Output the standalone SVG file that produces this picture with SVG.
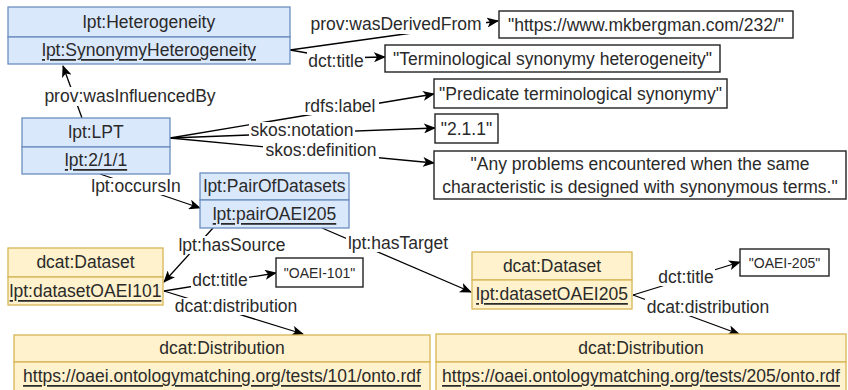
<svg xmlns="http://www.w3.org/2000/svg" width="848" height="390" viewBox="0 0 848 390">
<defs>
<marker id="arr" viewBox="0 0 12 10" refX="11" refY="5" markerWidth="12" markerHeight="10" markerUnits="userSpaceOnUse" orient="auto">
<path d="M0,0 L12,5 L0,10 L3,5 z" fill="#000"/>
</marker>
<style>
text{font-family:"Liberation Sans",Arial,sans-serif;font-size:17.5px;fill:#2a2a2a;text-anchor:middle;dominant-baseline:central}
.u{text-decoration:underline}
.blue{fill:#dae8fc;stroke:#6c8ebf;stroke-width:1.3}
.yel{fill:#fff2cc;stroke:#d6b656;stroke-width:1.3}
.lit{fill:#fff;stroke:#222;stroke-width:1.4}
.sm{font-size:14px}
.e{stroke:#000;stroke-width:1.3;fill:none;marker-end:url(#arr)}
.lb{fill:#fff}
</style>
</defs>
<rect width="848" height="390" fill="#fff"/>
<g id="connectors">
<line class="e" x1="82" y1="118" x2="63" y2="66"/>
<line class="e" x1="290" y1="50" x2="498" y2="21"/>
<polyline class="e" points="290,50 336,58 385,57"/>
<line class="e" x1="170" y1="138" x2="434" y2="94"/>
<line class="e" x1="170" y1="138" x2="435" y2="128"/>
<line class="e" x1="170" y1="138" x2="434" y2="163"/>
<line class="e" x1="100" y1="174" x2="200" y2="208"/>
<line class="e" x1="213" y1="228" x2="164" y2="282"/>
<line class="e" x1="322" y1="228" x2="471" y2="292"/>
<line class="e" x1="164" y1="291" x2="276" y2="273"/>
<line class="e" x1="164" y1="291" x2="303" y2="334"/>
<line class="e" x1="633" y1="295" x2="740" y2="262"/>
<line class="e" x1="633" y1="295" x2="739" y2="334"/>
<g id="edge-labels">
<rect class="lb" x="41" y="87" width="178" height="19"/><text x="130" y="96">prov:wasInfluencedBy</text>
<rect class="lb" x="306" y="15" width="180" height="19"/><text x="396" y="24">prov:wasDerivedFrom</text>
<rect class="lb" x="307" y="52" width="58" height="18"/><text x="336" y="61">dct:title</text>
<rect class="lb" x="301" y="97" width="78" height="18"/><text x="340" y="106">rdfs:label</text>
<rect class="lb" x="249" y="122" width="106" height="17"/><text x="302" y="130">skos:notation</text>
<rect class="lb" x="263" y="142" width="116" height="17"/><text x="321" y="150">skos:definition</text>
<rect class="lb" x="90" y="178" width="92" height="17"/><text x="136" y="186">lpt:occursIn</text>
<rect class="lb" x="176" y="236" width="112" height="18"/><text x="232" y="245">lpt:hasSource</text>
<rect class="lb" x="346" y="235" width="104" height="17"/><text x="398" y="243">lpt:hasTarget</text>
<rect class="lb" x="191" y="272" width="58" height="17"/><text x="220" y="280">dct:title</text>
<rect class="lb" x="174" y="298" width="124" height="17"/><text x="236" y="306">dcat:distribution</text>
<rect class="lb" x="657" y="269" width="58" height="17"/><text x="686" y="277">dct:title</text>
<rect class="lb" x="645" y="299" width="126" height="17"/><text x="708" y="307">dcat:distribution</text>
</g>
</g>
<g id="heterogeneity">
<rect class="blue" x="8" y="7" width="282" height="30"/>
<rect class="blue" x="8" y="37" width="282" height="27"/>
<text x="149" y="22">lpt:Heterogeneity</text>
<text class="u" x="149" y="50">lpt:SynonymyHeterogeneity</text>
</g>
<g id="lpt">
<rect class="blue" x="22" y="118" width="148" height="29"/>
<rect class="blue" x="22" y="147" width="148" height="27"/>
<text x="96" y="132">lpt:LPT</text>
<text class="u" x="96" y="160">lpt:2/1/1</text>
</g>
<g id="pair">
<rect class="blue" x="200" y="173" width="149" height="27"/>
<rect class="blue" x="200" y="200" width="149" height="28"/>
<text x="274.5" y="186">lpt:PairOfDatasets</text>
<text class="u" x="274.5" y="214">lpt:pairOAEI205</text>
</g>
<g id="lit-source">
<rect class="lit" x="499" y="11" width="294" height="27"/>
<text x="646" y="24.5">"https://www.mkbergman.com/232/"</text>
</g>
<g id="lit-title">
<rect class="lit" x="385" y="45" width="335" height="27"/>
<text x="552.5" y="58.5">"Terminological synonymy heterogeneity"</text>
</g>
<g id="lit-label">
<rect class="lit" x="434" y="79" width="293" height="29"/>
<text x="580.5" y="93.5">"Predicate terminological synonymy"</text>
</g>
<g id="lit-notation">
<rect class="lit" x="435" y="114" width="63" height="29"/>
<text x="466.5" y="128.5">"2.1.1"</text>
</g>
<g id="lit-definition">
<rect class="lit" x="434" y="151" width="412" height="48"/>
<text x="640" y="163.5">"Any problems encountered when the same</text>
<text x="640" y="186.5">characteristic is designed with synonymous terms."</text>
</g>
<g id="dataset101">
<rect class="yel" x="8" y="248" width="155" height="29"/>
<rect class="yel" x="8" y="277" width="155" height="28"/>
<text x="85.5" y="262">dcat:Dataset</text>
<text class="u" x="85.5" y="291">lpt:datasetOAEI101</text>
</g>
<g id="lit-oaei101">
<rect class="lit" x="276" y="258" width="87" height="29"/>
<text class="sm" x="319.5" y="272.5">"OAEI-101"</text>
</g>
<g id="dataset205">
<rect class="yel" x="472" y="252" width="160" height="28"/>
<rect class="yel" x="472" y="280" width="160" height="29"/>
<text x="552" y="266">dcat:Dataset</text>
<text class="u" x="552" y="294">lpt:datasetOAEI205</text>
</g>
<g id="lit-oaei205">
<rect class="lit" x="740" y="249" width="89" height="27"/>
<text class="sm" x="784.5" y="262.5">"OAEI-205"</text>
</g>
<g id="dist101">
<rect class="yel" x="14" y="335" width="416" height="27"/>
<rect class="yel" x="14" y="362" width="416" height="30"/>
<text x="222" y="348">dcat:Distribution</text>
<text class="u" x="222" y="376">https://oaei.ontologymatching.org/tests/101/onto.rdf</text>
</g>
<g id="dist205">
<rect class="yel" x="436" y="334" width="410" height="28"/>
<rect class="yel" x="436" y="362" width="410" height="30"/>
<text x="641" y="348">dcat:Distribution</text>
<text class="u" x="641" y="376">https://oaei.ontologymatching.org/tests/205/onto.rdf</text>
</g>
</svg>
